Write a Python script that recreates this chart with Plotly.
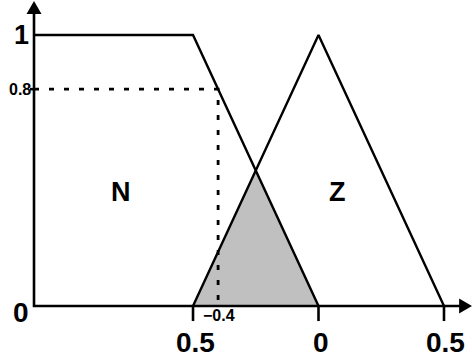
import numpy as np
import plotly.graph_objects as go

# ---- data ----
N_x = [-0.5, 0.0]          # N: 1 up to -0.5, falls to 0 at 0
N_y = [1.0, 0.0]
Z_x = [-0.5, 0.0, 0.5]     # Z triangle
Z_y = [0.0, 1.0, 0.0]
input_x = -0.4
input_mu = 0.8
x_tick_vals = [-0.5, 0.0, 0.5]
x_tick_text = ["0.5", "0", "0.5"]
set_labels = ["N", "Z"]
set_label_x = [-0.785, 0.077]
set_label_y = [0.42, 0.42]

# ---- layout helpers ----
W, H = 472, 360
XR = [-1.269, 0.6116]
YR = [-0.199, 1.129]
x_axis0 = -1.1335          # where the vertical axis sits
x_tip = 0.612
y_tip = 1.125
px_x = (XR[1] - XR[0]) / W
px_y = (YR[1] - YR[0]) / H

fig = go.Figure()
black = "#000000"

# overlap region = min(N, Z)
xs = np.linspace(-0.5, 0.0, 501)
nfun = np.interp(xs, [x_axis0] + N_x, [1.0] + N_y)
zfun = np.interp(xs, Z_x, Z_y)
mins = np.minimum(nfun, zfun)
fig.add_trace(go.Scatter(x=list(xs) + [xs[0]], y=list(mins) + [0], fill="toself",
                         fillcolor="#c0c0c0", line=dict(width=0), mode="lines",
                         hoverinfo="skip"))

# dashed guides
fig.add_trace(go.Scatter(x=[x_axis0, input_x, input_x], y=[input_mu, input_mu, 0],
                         mode="lines", line=dict(color=black, width=2.8, dash="5px,10px")))

# membership functions
fig.add_trace(go.Scatter(x=[x_axis0] + N_x, y=[1.0] + N_y, mode="lines",
                         line=dict(color=black, width=2.4)))
fig.add_trace(go.Scatter(x=Z_x, y=Z_y, mode="lines", line=dict(color=black, width=2.4)))

# axes
fig.add_trace(go.Scatter(x=[x_axis0, x_axis0, x_tip - 10 * px_x], y=[y_tip - 10 * px_y, 0, 0],
                         mode="lines", line=dict(color=black, width=2.6)))
# arrowheads
ah = 13
aw = 7.5
fig.add_trace(go.Scatter(x=[x_axis0 - aw * px_x, x_axis0 + aw * px_x, x_axis0, x_axis0 - aw * px_x],
                         y=[y_tip - ah * px_y, y_tip - ah * px_y, y_tip, y_tip - ah * px_y],
                         fill="toself", fillcolor=black, line=dict(width=0), mode="lines"))
fig.add_trace(go.Scatter(x=[x_tip - ah * px_x, x_tip - ah * px_x, x_tip, x_tip - ah * px_x],
                         y=[aw * px_y, -aw * px_y, 0, aw * px_y],
                         fill="toself", fillcolor=black, line=dict(width=0), mode="lines"))
# x ticks
for xv in x_tick_vals:
    fig.add_trace(go.Scatter(x=[xv, xv], y=[0, -15 * px_y], mode="lines",
                             line=dict(color=black, width=2.6)))
# small y tick at 0.8
fig.add_trace(go.Scatter(x=[x_axis0 - 4 * px_x, x_axis0], y=[input_mu, input_mu], mode="lines",
                         line=dict(color=black, width=2.6)))

font = "Liberation Sans, Arial, sans-serif"
ann = []
for xv, t in zip(x_tick_vals, x_tick_text):
    ann.append(dict(x=xv + 2 * px_x, y=-36 * px_y, text=f"<b>{t}</b>", font=dict(size=28)))
ann.append(dict(x=x_axis0 - 13 * px_x, y=1.0, text="<b>1</b>", font=dict(size=27)))
ann.append(dict(x=x_axis0 - 13 * px_x, y=-6 * px_y, text="<b>0</b>", font=dict(size=28)))
ann.append(dict(x=x_axis0 - 14 * px_x, y=input_mu, text="<b>0.8</b>", font=dict(size=16)))
ann.append(dict(x=input_x + 1 * px_x, y=-9 * px_y, text="<b>\u22120.4</b>", font=dict(size=16)))
for t, xv, yv in zip(set_labels, set_label_x, set_label_y):
    ann.append(dict(x=xv, y=yv, text=f"<b>{t}</b>", font=dict(size=27)))
for a in ann:
    a.update(xref="x", yref="y", showarrow=False, xanchor="center", yanchor="middle")
    a["font"].update(family=font, color=black)

fig.update_layout(width=W, height=H, margin=dict(l=0, r=0, t=0, b=0),
                  paper_bgcolor="white", plot_bgcolor="white", showlegend=False,
                  annotations=ann,
                  xaxis=dict(range=XR, visible=False, fixedrange=True),
                  yaxis=dict(range=YR, visible=False, fixedrange=True))
fig.write_html("out.html", config={"displayModeBar": False},
               post_script="document.body.style.margin='0px';document.body.style.overflow='hidden';")
